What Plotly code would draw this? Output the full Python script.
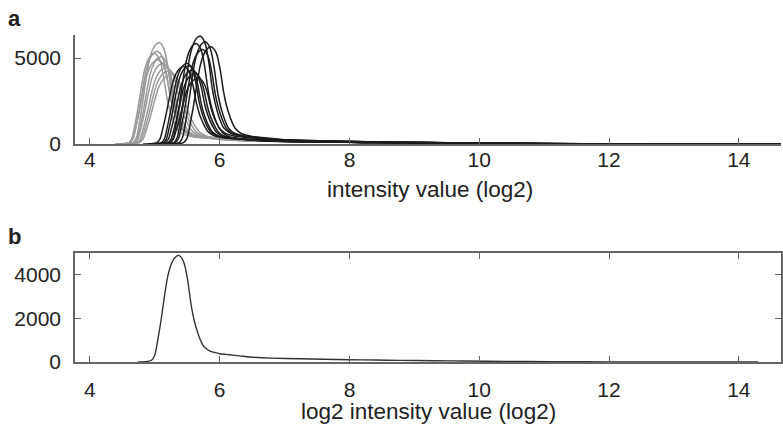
import numpy as np
import plotly.graph_objects as go

# Normalised intensity distribution (panel b): log2 intensity vs. count
norm_x = [4.74, 4.85, 4.95, 5.00, 5.05, 5.10, 5.15, 5.20, 5.26, 5.31, 5.37,
          5.42, 5.46, 5.51, 5.56, 5.60, 5.64, 5.69, 5.74, 5.80, 5.85, 5.92,
          6.00, 6.15, 6.31, 6.46, 6.80, 7.23, 7.60, 8.00, 8.40, 8.77, 9.30,
          9.80, 10.40, 11.10, 12.00, 13.00, 14.30]
norm_y = [0, 10, 80, 320, 1090, 2000, 3050, 3950, 4550, 4800, 4900,
          4750, 4460, 3690, 2620, 2000, 1550, 1100, 780, 600, 505, 440,
          380, 330, 280, 230, 180, 150, 125, 106, 90, 75, 60,
          45, 30, 15, 5, 2, 0]

# Raw per-array distributions (panel a): mode position, mode height, spread
grey_mode_x = [5.07, 5.00, 5.04, 5.10, 5.13, 5.18, 5.22, 5.05, 5.26]
grey_mode_y = [5900, 5270, 5400, 5080, 4700, 4450, 4250, 4900, 4050]
grey_spread = [0.95, 0.95, 1.00, 1.00, 1.05, 1.10, 1.15, 1.05, 1.20]

black_mode_x = [5.70, 5.78, 5.64, 5.87, 5.50, 5.45, 5.53, 5.62, 5.67, 5.74, 5.58]
black_mode_y = [6280, 5950, 5850, 5660, 4690, 4500, 4550, 4110, 3820, 5500, 4300]
black_spread = [0.95, 0.95, 0.95, 1.00, 0.95, 1.00, 0.95, 1.00, 1.05, 1.00, 1.00]

x_ticks = [4, 6, 8, 10, 12, 14]

FONT = "Liberation Sans, Arial, sans-serif"
AXIS_COL = "#666666"
PLOT_L, PLOT_R, W, H = 75, 2, 783, 425

# shape of a single distribution taken relative to its mode
nx = np.array(norm_x)
ny = np.array(norm_y, dtype=float)
mode_at = nx[int(np.argmax(ny))]
shape_dx = nx - mode_at
shape_f = ny / ny.max()

fig = go.Figure()


def add_curves(mx, my, sp, colour):
    for px, py, s in zip(mx, my, sp):
        fig.add_trace(go.Scatter(
            x=px + shape_dx * s, y=shape_f * py, mode="lines",
            line=dict(color=colour, width=1.5, shape="spline", smoothing=0.6),
            xaxis="x", yaxis="y", showlegend=False, hoverinfo="skip"))


add_curves(grey_mode_x, grey_mode_y, grey_spread, "#9a9a9a")
add_curves(black_mode_x, black_mode_y, black_spread, "#1c1c1c")

fig.add_trace(go.Scatter(
    x=norm_x, y=norm_y, mode="lines",
    line=dict(color="#333333", width=1.4, shape="spline", smoothing=0.6),
    xaxis="x2", yaxis="y2", showlegend=False, hoverinfo="skip"))

common_x = dict(range=[3.77, 14.65], tickvals=x_ticks, ticks="inside",
                ticklen=6, tickcolor=AXIS_COL, tickwidth=1.3, showline=True,
                linecolor=AXIS_COL, linewidth=1.5, showgrid=False,
                zeroline=False, automargin=False,
                tickfont=dict(size=21, color="#222"))
common_y = dict(ticks="inside", ticklen=6, tickcolor=AXIS_COL, tickwidth=1.3,
                showline=True, linecolor=AXIS_COL, linewidth=1.5,
                showgrid=False, zeroline=False, automargin=False,
                tickfont=dict(size=21, color="#222"))


def px_x(p):
    return (p - PLOT_L) / (W - PLOT_L - PLOT_R)


def px_y(p):
    return 1 - p / H


def label(text, x, y, size, bold=False):
    return dict(text=f"<b>{text}</b>" if bold else text,
                x=px_x(x), y=px_y(y), xref="paper", yref="paper",
                showarrow=False, font=dict(size=size),
                xanchor="center", yanchor="middle")


fig.update_layout(
    width=W, height=H,
    margin=dict(l=PLOT_L, r=PLOT_R, t=0, b=0, autoexpand=False),
    paper_bgcolor="white", plot_bgcolor="white",
    font=dict(family=FONT, color="#222"),
    xaxis=dict(common_x, anchor="y", ticklabelstandoff=-4),
    yaxis=dict(common_y, domain=[px_y(144), px_y(35)], range=[0, 6340],
               tickvals=[0, 5000], ticklabelstandoff=8),
    xaxis2=dict(common_x, anchor="y2", mirror="ticks", ticklabelstandoff=8),
    yaxis2=dict(common_y, domain=[px_y(362), px_y(253)], range=[0, 5010],
                tickvals=[0, 2000, 4000], mirror="ticks", ticklabelstandoff=8),
    annotations=[
        label("a", 14, 19, 22, bold=True),
        label("b", 14, 236, 22, bold=True),
        label("intensity value (log2)", 430, 189, 22.5),
        label("log2 intensity value (log2)", 428, 411, 22.5),
    ],
)

fig.write_html("out.html")
